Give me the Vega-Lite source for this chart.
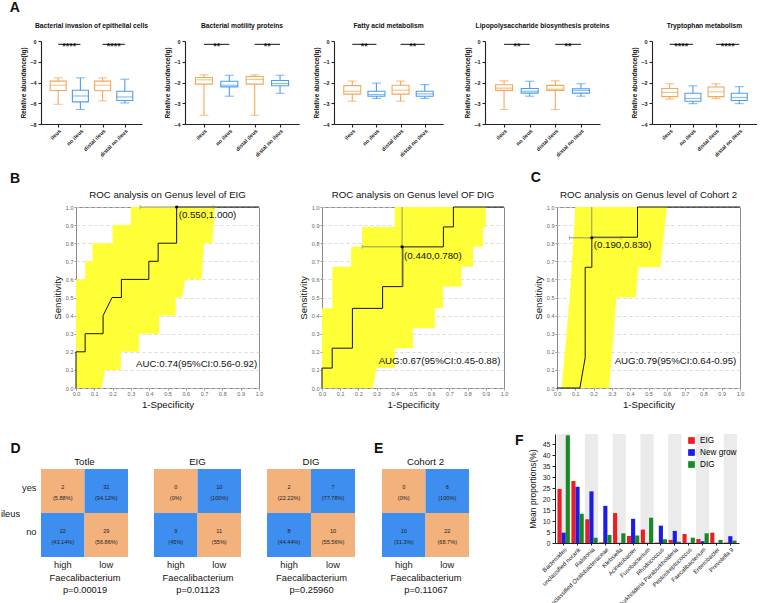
{
"$schema": "https://vega.github.io/schema/vega-lite/v6.json",
"padding": {"left": 0, "top": 1, "right": 0, "bottom": 0},
"background": "white",
"config": {"font": "Liberation Sans", "view": {"stroke": null}, "title": {"color": "#111"}, "axis": {"labelColor": "#222", "titleColor": "#111", "labelOverlap": false}},
"resolve": {"scale": {"color": "independent", "stroke": "independent"}, "legend": {"color": "independent"}},
"datasets": {
"box": [
{"p":1,"g":1,"c":"ileus","lo":-6.1,"q1":-4.77,"med":-4.26,"q3":-3.87,"hi":-3.55},
{"p":1,"g":2,"c":"no ileus","lo":-6.6,"q1":-5.87,"med":-5.3,"q3":-4.74,"hi":-3.55},
{"p":1,"g":3,"c":"ileus","lo":-5.77,"q1":-4.8,"med":-4.26,"q3":-3.87,"hi":-3.55},
{"p":1,"g":4,"c":"no ileus","lo":-5.97,"q1":-5.74,"med":-5.39,"q3":-4.84,"hi":-3.68},
{"p":2,"g":1,"c":"ileus","lo":-3.58,"q1":-2.08,"med":-1.87,"q3":-1.76,"hi":-1.63},
{"p":2,"g":2,"c":"no ileus","lo":-2.66,"q1":-2.21,"med":-2.13,"q3":-1.94,"hi":-1.65},
{"p":2,"g":3,"c":"ileus","lo":-3.58,"q1":-2.08,"med":-1.85,"q3":-1.71,"hi":-1.63},
{"p":2,"g":4,"c":"no ileus","lo":-2.52,"q1":-2.16,"med":-2.05,"q3":-1.9,"hi":-1.65},
{"p":3,"g":1,"c":"ileus","lo":-2.9,"q1":-2.56,"med":-2.42,"q3":-2.15,"hi":-1.93},
{"p":3,"g":2,"c":"no ileus","lo":-2.77,"q1":-2.66,"med":-2.58,"q3":-2.42,"hi":-2.03},
{"p":3,"g":3,"c":"ileus","lo":-2.9,"q1":-2.56,"med":-2.37,"q3":-2.13,"hi":-1.93},
{"p":3,"g":4,"c":"no ileus","lo":-2.77,"q1":-2.66,"med":-2.55,"q3":-2.42,"hi":-2.1},
{"p":4,"g":1,"c":"ileus","lo":-3.3,"q1":-2.38,"med":-2.27,"q3":-2.11,"hi":-1.92},
{"p":4,"g":2,"c":"no ileus","lo":-2.66,"q1":-2.51,"med":-2.42,"q3":-2.29,"hi":-1.94},
{"p":4,"g":3,"c":"ileus","lo":-3.3,"q1":-2.38,"med":-2.32,"q3":-2.14,"hi":-1.92},
{"p":4,"g":4,"c":"no ileus","lo":-2.66,"q1":-2.51,"med":-2.38,"q3":-2.3,"hi":-2.06},
{"p":5,"g":1,"c":"ileus","lo":-2.8,"q1":-2.68,"med":-2.48,"q3":-2.29,"hi":-2.06},
{"p":5,"g":2,"c":"no ileus","lo":-3.02,"q1":-2.9,"med":-2.77,"q3":-2.52,"hi":-2.16},
{"p":5,"g":3,"c":"ileus","lo":-2.77,"q1":-2.68,"med":-2.45,"q3":-2.22,"hi":-2.06},
{"p":5,"g":4,"c":"no ileus","lo":-3.02,"q1":-2.87,"med":-2.72,"q3":-2.52,"hi":-2.2}
],
"sig": [
{"p":1,"a":1,"b":2,"m":1.5,"y":-0.32,"s":"****"},{"p":1,"a":3,"b":4,"m":3.5,"y":-0.32,"s":"****"},
{"p":2,"a":1,"b":2,"m":1.5,"y":-0.16,"s":"**"},{"p":2,"a":3,"b":4,"m":3.5,"y":-0.16,"s":"**"},
{"p":3,"a":1,"b":2,"m":1.5,"y":-0.16,"s":"**"},{"p":3,"a":3,"b":4,"m":3.5,"y":-0.16,"s":"**"},
{"p":4,"a":1,"b":2,"m":1.5,"y":-0.16,"s":"**"},{"p":4,"a":3,"b":4,"m":3.5,"y":-0.16,"s":"**"},
{"p":5,"a":1,"b":2,"m":1.5,"y":-0.16,"s":"****"},{"p":5,"a":3,"b":4,"m":3.5,"y":-0.16,"s":"****"}
],
"line": [
{"r":"EIG","i":0,"x":0,"y":0},{"r":"EIG","i":1,"x":0,"y":0.2},{"r":"EIG","i":2,"x":0.05,"y":0.2},{"r":"EIG","i":3,"x":0.05,"y":0.3},{"r":"EIG","i":4,"x":0.148,"y":0.3},{"r":"EIG","i":5,"x":0.148,"y":0.4},{"r":"EIG","i":6,"x":0.197,"y":0.5},{"r":"EIG","i":7,"x":0.248,"y":0.5},{"r":"EIG","i":8,"x":0.248,"y":0.6},{"r":"EIG","i":9,"x":0.398,"y":0.6},{"r":"EIG","i":10,"x":0.398,"y":0.7},{"r":"EIG","i":11,"x":0.449,"y":0.7},{"r":"EIG","i":12,"x":0.449,"y":0.8},{"r":"EIG","i":13,"x":0.55,"y":0.8},{"r":"EIG","i":14,"x":0.55,"y":1},{"r":"EIG","i":15,"x":1,"y":1},
{"r":"DIG","i":0,"x":0,"y":0},{"r":"DIG","i":1,"x":0,"y":0.11},{"r":"DIG","i":2,"x":0.056,"y":0.11},{"r":"DIG","i":3,"x":0.056,"y":0.22},{"r":"DIG","i":4,"x":0.167,"y":0.22},{"r":"DIG","i":5,"x":0.167,"y":0.44},{"r":"DIG","i":6,"x":0.333,"y":0.44},{"r":"DIG","i":7,"x":0.333,"y":0.56},{"r":"DIG","i":8,"x":0.444,"y":0.56},{"r":"DIG","i":9,"x":0.444,"y":0.78},{"r":"DIG","i":10,"x":0.667,"y":0.78},{"r":"DIG","i":11,"x":0.667,"y":0.89},{"r":"DIG","i":12,"x":0.722,"y":0.89},{"r":"DIG","i":13,"x":0.722,"y":1},{"r":"DIG","i":14,"x":1,"y":1},
{"r":"C2","i":0,"x":0,"y":0},{"r":"C2","i":1,"x":0.125,"y":0},{"r":"C2","i":2,"x":0.154,"y":0.167},{"r":"C2","i":3,"x":0.154,"y":0.667},{"r":"C2","i":4,"x":0.19,"y":0.667},{"r":"C2","i":5,"x":0.19,"y":0.833},{"r":"C2","i":6,"x":0.44,"y":0.833},{"r":"C2","i":7,"x":0.44,"y":1},{"r":"C2","i":8,"x":1,"y":1}
],
"band": [
{"r":"EIG","y":0,"l":0,"h":0.14},{"r":"EIG","y":0.1,"l":0,"h":0.16},{"r":"EIG","y":0.1001,"l":0,"h":0.245},{"r":"EIG","y":0.2,"l":0,"h":0.245},{"r":"EIG","y":0.2001,"l":0,"h":0.345},{"r":"EIG","y":0.3,"l":0,"h":0.345},{"r":"EIG","y":0.3001,"l":0,"h":0.455},{"r":"EIG","y":0.4,"l":0,"h":0.455},{"r":"EIG","y":0.4001,"l":0,"h":0.545},{"r":"EIG","y":0.5,"l":0,"h":0.545},{"r":"EIG","y":0.5001,"l":0,"h":0.58},{"r":"EIG","y":0.6,"l":0,"h":0.597},{"r":"EIG","y":0.6001,"l":0.05,"h":0.687},{"r":"EIG","y":0.7,"l":0.05,"h":0.693},{"r":"EIG","y":0.7001,"l":0.09,"h":0.693},{"r":"EIG","y":0.8,"l":0.09,"h":0.7},{"r":"EIG","y":0.8001,"l":0.2,"h":0.745},{"r":"EIG","y":0.9,"l":0.2,"h":0.752},{"r":"EIG","y":0.9001,"l":0.3,"h":0.752},{"r":"EIG","y":1,"l":0.3,"h":0.76},
{"r":"DIG","y":0,"l":0,"h":0.28},{"r":"DIG","y":0.11,"l":0,"h":0.3},{"r":"DIG","y":0.1101,"l":0,"h":0.4},{"r":"DIG","y":0.22,"l":0,"h":0.4},{"r":"DIG","y":0.2201,"l":0,"h":0.5},{"r":"DIG","y":0.33,"l":0,"h":0.5},{"r":"DIG","y":0.3301,"l":0,"h":0.62},{"r":"DIG","y":0.44,"l":0,"h":0.62},{"r":"DIG","y":0.4401,"l":0.057,"h":0.665},{"r":"DIG","y":0.56,"l":0.057,"h":0.665},{"r":"DIG","y":0.5601,"l":0.057,"h":0.766},{"r":"DIG","y":0.67,"l":0.057,"h":0.766},{"r":"DIG","y":0.6701,"l":0.16,"h":0.83},{"r":"DIG","y":0.78,"l":0.16,"h":0.83},{"r":"DIG","y":0.7801,"l":0.22,"h":0.885},{"r":"DIG","y":0.89,"l":0.22,"h":0.885},{"r":"DIG","y":0.8901,"l":0.4,"h":0.9},{"r":"DIG","y":1,"l":0.4,"h":0.9},
{"r":"C2","y":0,"l":0.025,"h":0.285},{"r":"C2","y":0.5,"l":0.07,"h":0.325},{"r":"C2","y":0.5001,"l":0.07,"h":0.43},{"r":"C2","y":0.667,"l":0.08,"h":0.445},{"r":"C2","y":0.6671,"l":0.08,"h":0.565},{"r":"C2","y":1,"l":0.1,"h":0.6}
],
"pt": [
{"r":"EIG","px":0.55,"py":1.0,"xl":0.35,"xh":0.75,"yl":1.0,"yh":1.0,"lab":"(0.550,1.000)","auc":"AUC:0.74(95%CI:0.56-0.92)"},
{"r":"DIG","px":0.44,"py":0.78,"xl":0.22,"xh":0.667,"yl":0.56,"yh":1.0,"lab":"(0.440,0.780)","auc":"AUG:0.67(95%CI:0.45-0.88)"},
{"r":"C2","px":0.19,"py":0.83,"xl":0.068,"xh":0.35,"yl":0.667,"yh":1.0,"lab":"(0.190,0.830)","auc":"AUG:0.79(95%CI:0.64-0.95)"}
],
"heat": [
{"h":"Totle","i":"yes","f":"high","n":"2","pct":"(5.88%)"},{"h":"Totle","i":"yes","f":"low","n":"32","pct":"(94.12%)"},{"h":"Totle","i":"no","f":"high","n":"22","pct":"(43.14%)"},{"h":"Totle","i":"no","f":"low","n":"29","pct":"(56.86%)"},
{"h":"EIG","i":"yes","f":"high","n":"0","pct":"(0%)"},{"h":"EIG","i":"yes","f":"low","n":"10","pct":"(100%)"},{"h":"EIG","i":"no","f":"high","n":"9","pct":"(45%)"},{"h":"EIG","i":"no","f":"low","n":"11","pct":"(55%)"},
{"h":"DIG","i":"yes","f":"high","n":"2","pct":"(22.22%)"},{"h":"DIG","i":"yes","f":"low","n":"7","pct":"(77.78%)"},{"h":"DIG","i":"no","f":"high","n":"8","pct":"(44.44%)"},{"h":"DIG","i":"no","f":"low","n":"10","pct":"(55.56%)"},
{"h":"C2","i":"yes","f":"high","n":"0","pct":"(0%)"},{"h":"C2","i":"yes","f":"low","n":"6","pct":"(100%)"},{"h":"C2","i":"no","f":"high","n":"10","pct":"(31.3%)"},{"h":"C2","i":"no","f":"low","n":"22","pct":"(68.7%)"}
],
"bars": [
{"genus":"Bacteroides","grp":"EIG","v":24.6},{"genus":"Bacteroides","grp":"New grow","v":4.7},{"genus":"Bacteroides","grp":"DIG","v":49.0},
{"genus":"unclassified norank","grp":"EIG","v":28.2},{"genus":"unclassified norank","grp":"New grow","v":25.6},{"genus":"unclassified norank","grp":"DIG","v":13.3},
{"genus":"Ralstonia","grp":"EIG","v":10.8},{"genus":"Ralstonia","grp":"New grow","v":23.5},{"genus":"Ralstonia","grp":"DIG","v":2.4},
{"genus":"unclassified Oxalobacteraceae","grp":"EIG","v":0.3},{"genus":"unclassified Oxalobacteraceae","grp":"New grow","v":16.9},{"genus":"unclassified Oxalobacteraceae","grp":"DIG","v":3.7},
{"genus":"Klebsiella","grp":"EIG","v":13.6},{"genus":"Klebsiella","grp":"New grow","v":0.1},{"genus":"Klebsiella","grp":"DIG","v":4.4},
{"genus":"Acinetobacter","grp":"EIG","v":3.2},{"genus":"Acinetobacter","grp":"New grow","v":11.0},{"genus":"Acinetobacter","grp":"DIG","v":3.4},
{"genus":"Fusobacterium","grp":"EIG","v":6.1},{"genus":"Fusobacterium","grp":"New grow","v":0.1},{"genus":"Fusobacterium","grp":"DIG","v":11.5},
{"genus":"Rhodococcus","grp":"EIG","v":0.2},{"genus":"Rhodococcus","grp":"New grow","v":7.9},{"genus":"Rhodococcus","grp":"DIG","v":1.7},
{"genus":"Burkholderia Paraburkholderia","grp":"EIG","v":1.4},{"genus":"Burkholderia Paraburkholderia","grp":"New grow","v":5.5},{"genus":"Burkholderia Paraburkholderia","grp":"DIG","v":0.6},
{"genus":"Peptostreptococcus","grp":"EIG","v":4.1},{"genus":"Peptostreptococcus","grp":"New grow","v":0.1},{"genus":"Peptostreptococcus","grp":"DIG","v":2.4},
{"genus":"Faecalibacterium","grp":"EIG","v":1.8},{"genus":"Faecalibacterium","grp":"New grow","v":0.8},{"genus":"Faecalibacterium","grp":"DIG","v":4.4},
{"genus":"Enterobacter","grp":"EIG","v":4.7},{"genus":"Enterobacter","grp":"New grow","v":0.1},{"genus":"Enterobacter","grp":"DIG","v":1.4},
{"genus":"Prevotella 9","grp":"EIG","v":0.2},{"genus":"Prevotella 9","grp":"New grow","v":3.1},{"genus":"Prevotella 9","grp":"DIG","v":1.1}
]
},
"spacing": 24,
"vconcat": [
{"spacing": 12, "vconcat": [
{"title": {"text": "A", "anchor": "start", "fontSize": 14, "fontWeight": "bold", "dx": -11, "offset": 8},
 "spacing": 14,
 "hconcat": [
 {"spacing": 16, "hconcat": [
  {"width": 101, "height": 83,
   "title": {"text": "Bacterial invasion of epithelial cells", "fontSize": 6.7, "fontWeight": "bold", "offset": 9},
   "data": {"name": "box"}, "transform": [{"filter": "datum.p == 1"}],
   "encoding": {"x": {"field": "g", "type": "quantitative", "scale": {"domain": [0.45, 4.55], "nice": false, "zero": false}, "axis": {"values": [1,2,3,4], "tickCount": 6, "labelExpr": "['','ileus','no ileus','distal ileus','distal no ileus'][datum.value]", "labelAngle": -45, "labelAlign": "right", "labelBaseline": "top", "labelFontSize": 5.5, "labelFontWeight": "bold", "labelPadding": 1, "labelFlush": false, "labelOverlap": false, "title": null, "grid": false, "tickSize": 3, "tickColor": "#222", "tickWidth": 1.1, "domainColor": "#222", "domainWidth": 1.1}}},
   "layer": [
    {"mark": {"type": "rule", "strokeWidth": 1.1}, "encoding": {"y": {"field": "lo", "type": "quantitative", "scale": {"domain": [-8, 0], "nice": false}, "axis": {"values": [0,-2,-4,-6,-8], "tickCount": 6, "format": "d", "title": "Relative abundance(lg)", "titleFontSize": 6.5, "titleFontWeight": "bold", "titlePadding": 3, "labelFontSize": 5.5, "labelFontWeight": "bold", "labelPadding": 2, "labelOverlap": false, "tickSize": 3, "tickColor": "#222", "tickWidth": 1.1, "domainColor": "#222", "domainWidth": 1.1, "grid": false}}, "y2": {"field": "hi"}, "color": {"field": "c", "type": "nominal", "scale": {"domain": ["ileus","no ileus"], "range": ["#F5A857","#4C9DF3"]}, "legend": null}}},
    {"mark": {"type": "bar", "size": 16, "fill": "white", "strokeWidth": 1.1}, "encoding": {"y": {"field": "q1", "type": "quantitative"}, "y2": {"field": "q3"}, "stroke": {"field": "c", "type": "nominal", "scale": {"domain": ["ileus","no ileus"], "range": ["#F5A857","#4C9DF3"]}, "legend": null}}},
    {"mark": {"type": "tick", "orient": "horizontal", "size": 16, "thickness": 1.1}, "encoding": {"y": {"field": "med", "type": "quantitative"}, "color": {"field": "c", "type": "nominal", "legend": null}}},
    {"mark": {"type": "tick", "orient": "horizontal", "size": 9, "thickness": 1.1}, "encoding": {"y": {"field": "lo", "type": "quantitative"}, "color": {"field": "c", "type": "nominal", "legend": null}}},
    {"mark": {"type": "tick", "orient": "horizontal", "size": 9, "thickness": 1.1}, "encoding": {"y": {"field": "hi", "type": "quantitative"}, "color": {"field": "c", "type": "nominal", "legend": null}}},
    {"data": {"name": "sig"}, "transform": [{"filter": "datum.p == 1"}], "mark": {"type": "rule", "color": "#111", "strokeWidth": 1}, "encoding": {"x": {"field": "a", "type": "quantitative"}, "x2": {"field": "b"}, "y": {"field": "y", "type": "quantitative"}}},
    {"data": {"name": "sig"}, "transform": [{"filter": "datum.p == 1"}], "mark": {"type": "text", "fontWeight": "bold", "fontSize": 9, "baseline": "alphabetic", "dy": 4.5, "color": "#111"}, "encoding": {"x": {"field": "m", "type": "quantitative"}, "y": {"field": "y", "type": "quantitative"}, "text": {"field": "s"}}}
   ]},
  {"width": 114, "height": 83,
   "title": {"text": "Bacterial motility proteins", "fontSize": 6.7, "fontWeight": "bold", "offset": 9},
   "data": {"name": "box"}, "transform": [{"filter": "datum.p == 2"}],
   "encoding": {"x": {"field": "g", "type": "quantitative", "scale": {"domain": [0.45, 4.55], "nice": false, "zero": false}, "axis": {"values": [1,2,3,4], "tickCount": 6, "labelExpr": "['','ileus','no ileus','distal ileus','distal no ileus'][datum.value]", "labelAngle": -45, "labelAlign": "right", "labelBaseline": "top", "labelFontSize": 5.5, "labelFontWeight": "bold", "labelPadding": 1, "labelFlush": false, "labelOverlap": false, "title": null, "grid": false, "tickSize": 3, "tickColor": "#222", "tickWidth": 1.1, "domainColor": "#222", "domainWidth": 1.1}}},
   "layer": [
    {"mark": {"type": "rule", "strokeWidth": 1.1}, "encoding": {"y": {"field": "lo", "type": "quantitative", "scale": {"domain": [-4, 0], "nice": false}, "axis": {"values": [0,-1,-2,-3,-4], "tickCount": 6, "format": "d", "title": "Relative abundance(lg)", "titleFontSize": 6.5, "titleFontWeight": "bold", "titlePadding": 3, "labelFontSize": 5.5, "labelFontWeight": "bold", "labelPadding": 2, "labelOverlap": false, "tickSize": 3, "tickColor": "#222", "tickWidth": 1.1, "domainColor": "#222", "domainWidth": 1.1, "grid": false}}, "y2": {"field": "hi"}, "color": {"field": "c", "type": "nominal", "scale": {"domain": ["ileus","no ileus"], "range": ["#F5A857","#4C9DF3"]}, "legend": null}}},
    {"mark": {"type": "bar", "size": 17, "fill": "white", "strokeWidth": 1.1}, "encoding": {"y": {"field": "q1", "type": "quantitative"}, "y2": {"field": "q3"}, "stroke": {"field": "c", "type": "nominal", "scale": {"domain": ["ileus","no ileus"], "range": ["#F5A857","#4C9DF3"]}, "legend": null}}},
    {"mark": {"type": "tick", "orient": "horizontal", "size": 17, "thickness": 1.1}, "encoding": {"y": {"field": "med", "type": "quantitative"}, "color": {"field": "c", "type": "nominal", "legend": null}}},
    {"mark": {"type": "tick", "orient": "horizontal", "size": 9, "thickness": 1.1}, "encoding": {"y": {"field": "lo", "type": "quantitative"}, "color": {"field": "c", "type": "nominal", "legend": null}}},
    {"mark": {"type": "tick", "orient": "horizontal", "size": 9, "thickness": 1.1}, "encoding": {"y": {"field": "hi", "type": "quantitative"}, "color": {"field": "c", "type": "nominal", "legend": null}}},
    {"data": {"name": "sig"}, "transform": [{"filter": "datum.p == 2"}], "mark": {"type": "rule", "color": "#111", "strokeWidth": 1}, "encoding": {"x": {"field": "a", "type": "quantitative"}, "x2": {"field": "b"}, "y": {"field": "y", "type": "quantitative"}}},
    {"data": {"name": "sig"}, "transform": [{"filter": "datum.p == 2"}], "mark": {"type": "text", "fontWeight": "bold", "fontSize": 9, "baseline": "alphabetic", "dy": 4.5, "color": "#111"}, "encoding": {"x": {"field": "m", "type": "quantitative"}, "y": {"field": "y", "type": "quantitative"}, "text": {"field": "s"}}}
   ]}
 ]},
 {"spacing": 21, "hconcat": [
  {"width": 109, "height": 83,
   "title": {"text": "Fatty acid metabolism", "fontSize": 6.7, "fontWeight": "bold", "offset": 9},
   "data": {"name": "box"}, "transform": [{"filter": "datum.p == 3"}],
   "encoding": {"x": {"field": "g", "type": "quantitative", "scale": {"domain": [0.45, 4.55], "nice": false, "zero": false}, "axis": {"values": [1,2,3,4], "tickCount": 6, "labelExpr": "['','ileus','no ileus','distal ileus','distal no ileus'][datum.value]", "labelAngle": -45, "labelAlign": "right", "labelBaseline": "top", "labelFontSize": 5.5, "labelFontWeight": "bold", "labelPadding": 1, "labelFlush": false, "labelOverlap": false, "title": null, "grid": false, "tickSize": 3, "tickColor": "#222", "tickWidth": 1.1, "domainColor": "#222", "domainWidth": 1.1}}},
   "layer": [
    {"mark": {"type": "rule", "strokeWidth": 1.1}, "encoding": {"y": {"field": "lo", "type": "quantitative", "scale": {"domain": [-4, 0], "nice": false}, "axis": {"values": [0,-1,-2,-3,-4], "tickCount": 6, "format": "d", "title": "Relative abundance(lg)", "titleFontSize": 6.5, "titleFontWeight": "bold", "titlePadding": 3, "labelFontSize": 5.5, "labelFontWeight": "bold", "labelPadding": 2, "labelOverlap": false, "tickSize": 3, "tickColor": "#222", "tickWidth": 1.1, "domainColor": "#222", "domainWidth": 1.1, "grid": false}}, "y2": {"field": "hi"}, "color": {"field": "c", "type": "nominal", "scale": {"domain": ["ileus","no ileus"], "range": ["#F5A857","#4C9DF3"]}, "legend": null}}},
    {"mark": {"type": "bar", "size": 17, "fill": "white", "strokeWidth": 1.1}, "encoding": {"y": {"field": "q1", "type": "quantitative"}, "y2": {"field": "q3"}, "stroke": {"field": "c", "type": "nominal", "scale": {"domain": ["ileus","no ileus"], "range": ["#F5A857","#4C9DF3"]}, "legend": null}}},
    {"mark": {"type": "tick", "orient": "horizontal", "size": 17, "thickness": 1.1}, "encoding": {"y": {"field": "med", "type": "quantitative"}, "color": {"field": "c", "type": "nominal", "legend": null}}},
    {"mark": {"type": "tick", "orient": "horizontal", "size": 9, "thickness": 1.1}, "encoding": {"y": {"field": "lo", "type": "quantitative"}, "color": {"field": "c", "type": "nominal", "legend": null}}},
    {"mark": {"type": "tick", "orient": "horizontal", "size": 9, "thickness": 1.1}, "encoding": {"y": {"field": "hi", "type": "quantitative"}, "color": {"field": "c", "type": "nominal", "legend": null}}},
    {"data": {"name": "sig"}, "transform": [{"filter": "datum.p == 3"}], "mark": {"type": "rule", "color": "#111", "strokeWidth": 1}, "encoding": {"x": {"field": "a", "type": "quantitative"}, "x2": {"field": "b"}, "y": {"field": "y", "type": "quantitative"}}},
    {"data": {"name": "sig"}, "transform": [{"filter": "datum.p == 3"}], "mark": {"type": "text", "fontWeight": "bold", "fontSize": 9, "baseline": "alphabetic", "dy": 4.5, "color": "#111"}, "encoding": {"x": {"field": "m", "type": "quantitative"}, "y": {"field": "y", "type": "quantitative"}, "text": {"field": "s"}}}
   ]},
  {"width": 115, "height": 83,
   "title": {"text": "Lipopolysaccharide biosynthesis proteins", "fontSize": 6.7, "fontWeight": "bold", "offset": 9},
   "data": {"name": "box"}, "transform": [{"filter": "datum.p == 4"}],
   "encoding": {"x": {"field": "g", "type": "quantitative", "scale": {"domain": [0.45, 4.55], "nice": false, "zero": false}, "axis": {"values": [1,2,3,4], "tickCount": 6, "labelExpr": "['','ileus','no ileus','distal ileus','distal no ileus'][datum.value]", "labelAngle": -45, "labelAlign": "right", "labelBaseline": "top", "labelFontSize": 5.5, "labelFontWeight": "bold", "labelPadding": 1, "labelFlush": false, "labelOverlap": false, "title": null, "grid": false, "tickSize": 3, "tickColor": "#222", "tickWidth": 1.1, "domainColor": "#222", "domainWidth": 1.1}}},
   "layer": [
    {"mark": {"type": "rule", "strokeWidth": 1.1}, "encoding": {"y": {"field": "lo", "type": "quantitative", "scale": {"domain": [-4, 0], "nice": false}, "axis": {"values": [0,-1,-2,-3,-4], "tickCount": 6, "format": "d", "title": "Relative abundance(lg)", "titleFontSize": 6.5, "titleFontWeight": "bold", "titlePadding": 3, "labelFontSize": 5.5, "labelFontWeight": "bold", "labelPadding": 2, "labelOverlap": false, "tickSize": 3, "tickColor": "#222", "tickWidth": 1.1, "domainColor": "#222", "domainWidth": 1.1, "grid": false}}, "y2": {"field": "hi"}, "color": {"field": "c", "type": "nominal", "scale": {"domain": ["ileus","no ileus"], "range": ["#F5A857","#4C9DF3"]}, "legend": null}}},
    {"mark": {"type": "bar", "size": 17, "fill": "white", "strokeWidth": 1.1}, "encoding": {"y": {"field": "q1", "type": "quantitative"}, "y2": {"field": "q3"}, "stroke": {"field": "c", "type": "nominal", "scale": {"domain": ["ileus","no ileus"], "range": ["#F5A857","#4C9DF3"]}, "legend": null}}},
    {"mark": {"type": "tick", "orient": "horizontal", "size": 17, "thickness": 1.1}, "encoding": {"y": {"field": "med", "type": "quantitative"}, "color": {"field": "c", "type": "nominal", "legend": null}}},
    {"mark": {"type": "tick", "orient": "horizontal", "size": 9, "thickness": 1.1}, "encoding": {"y": {"field": "lo", "type": "quantitative"}, "color": {"field": "c", "type": "nominal", "legend": null}}},
    {"mark": {"type": "tick", "orient": "horizontal", "size": 9, "thickness": 1.1}, "encoding": {"y": {"field": "hi", "type": "quantitative"}, "color": {"field": "c", "type": "nominal", "legend": null}}},
    {"data": {"name": "sig"}, "transform": [{"filter": "datum.p == 4"}], "mark": {"type": "rule", "color": "#111", "strokeWidth": 1}, "encoding": {"x": {"field": "a", "type": "quantitative"}, "x2": {"field": "b"}, "y": {"field": "y", "type": "quantitative"}}},
    {"data": {"name": "sig"}, "transform": [{"filter": "datum.p == 4"}], "mark": {"type": "text", "fontWeight": "bold", "fontSize": 9, "baseline": "alphabetic", "dy": 4.5, "color": "#111"}, "encoding": {"x": {"field": "m", "type": "quantitative"}, "y": {"field": "y", "type": "quantitative"}, "text": {"field": "s"}}}
   ]},
  {"width": 105, "height": 83,
   "title": {"text": "Tryptophan metabolism", "fontSize": 6.7, "fontWeight": "bold", "offset": 9},
   "data": {"name": "box"}, "transform": [{"filter": "datum.p == 5"}],
   "encoding": {"x": {"field": "g", "type": "quantitative", "scale": {"domain": [0.45, 4.55], "nice": false, "zero": false}, "axis": {"values": [1,2,3,4], "tickCount": 6, "labelExpr": "['','ileus','no ileus','distal ileus','distal no ileus'][datum.value]", "labelAngle": -45, "labelAlign": "right", "labelBaseline": "top", "labelFontSize": 5.5, "labelFontWeight": "bold", "labelPadding": 1, "labelFlush": false, "labelOverlap": false, "title": null, "grid": false, "tickSize": 3, "tickColor": "#222", "tickWidth": 1.1, "domainColor": "#222", "domainWidth": 1.1}}},
   "layer": [
    {"mark": {"type": "rule", "strokeWidth": 1.1}, "encoding": {"y": {"field": "lo", "type": "quantitative", "scale": {"domain": [-4, 0], "nice": false}, "axis": {"values": [0,-1,-2,-3,-4], "tickCount": 6, "format": "d", "title": "Relative abundance(lg)", "titleFontSize": 6.5, "titleFontWeight": "bold", "titlePadding": 3, "labelFontSize": 5.5, "labelFontWeight": "bold", "labelPadding": 2, "labelOverlap": false, "tickSize": 3, "tickColor": "#222", "tickWidth": 1.1, "domainColor": "#222", "domainWidth": 1.1, "grid": false}}, "y2": {"field": "hi"}, "color": {"field": "c", "type": "nominal", "scale": {"domain": ["ileus","no ileus"], "range": ["#F5A857","#4C9DF3"]}, "legend": null}}},
    {"mark": {"type": "bar", "size": 16, "fill": "white", "strokeWidth": 1.1}, "encoding": {"y": {"field": "q1", "type": "quantitative"}, "y2": {"field": "q3"}, "stroke": {"field": "c", "type": "nominal", "scale": {"domain": ["ileus","no ileus"], "range": ["#F5A857","#4C9DF3"]}, "legend": null}}},
    {"mark": {"type": "tick", "orient": "horizontal", "size": 16, "thickness": 1.1}, "encoding": {"y": {"field": "med", "type": "quantitative"}, "color": {"field": "c", "type": "nominal", "legend": null}}},
    {"mark": {"type": "tick", "orient": "horizontal", "size": 9, "thickness": 1.1}, "encoding": {"y": {"field": "lo", "type": "quantitative"}, "color": {"field": "c", "type": "nominal", "legend": null}}},
    {"mark": {"type": "tick", "orient": "horizontal", "size": 9, "thickness": 1.1}, "encoding": {"y": {"field": "hi", "type": "quantitative"}, "color": {"field": "c", "type": "nominal", "legend": null}}},
    {"data": {"name": "sig"}, "transform": [{"filter": "datum.p == 5"}], "mark": {"type": "rule", "color": "#111", "strokeWidth": 1}, "encoding": {"x": {"field": "a", "type": "quantitative"}, "x2": {"field": "b"}, "y": {"field": "y", "type": "quantitative"}}},
    {"data": {"name": "sig"}, "transform": [{"filter": "datum.p == 5"}], "mark": {"type": "text", "fontWeight": "bold", "fontSize": 9, "baseline": "alphabetic", "dy": 4.5, "color": "#111"}, "encoding": {"x": {"field": "m", "type": "quantitative"}, "y": {"field": "y", "type": "quantitative"}, "text": {"field": "s"}}}
   ]}
 ]}
 ]},
{"spacing": 21, "hconcat": [
 {"spacing": 9, "hconcat": [
  {"width": 1, "height": 1, "data": {"values": []}, "mark": "point",
   "title": {"text": "B", "anchor": "start", "fontSize": 14, "fontWeight": "bold", "dx": -31, "offset": 21}},
  {"spacing": 33, "hconcat": [
  {"width": 183, "height": 181, "view": {"stroke": "#8a8a8a"},
   "title": {"text": "ROC analysis on Genus level of EIG", "fontSize": 9.7, "fontWeight": "normal", "offset": 5},
   "layer": [
    {"data": {"name": "band"}, "transform": [{"filter": "datum.r == 'EIG'"}], "mark": {"type": "area", "orient": "horizontal", "color": "#FFFF38", "opacity": 1}, "encoding": {"y": {"field": "y", "type": "quantitative", "scale": {"domain": [0,1], "nice": false}, "axis": {"values": [0,0.1,0.2,0.3,0.4,0.5,0.6,0.7,0.8,0.9,1], "tickCount": 12, "format": ".1f", "title": "Sensitivity", "titleFontSize": 9.7, "titleFontWeight": "normal", "titlePadding": 3, "labelFontSize": 5.5, "labelColor": "#666", "labelPadding": 1, "labelOverlap": false, "labelFlush": false, "tickSize": 2, "tickColor": "#999", "domain": false, "grid": true, "gridDash": [3,3], "gridColor": "#cfcfcf", "gridWidth": 0.8}}, "x": {"field": "l", "type": "quantitative", "scale": {"domain": [0,1], "nice": false}, "axis": {"values": [0,0.1,0.2,0.3,0.4,0.5,0.6,0.7,0.8,0.9,1], "tickCount": 12, "format": ".1f", "title": "1-Specificity", "titleFontSize": 9.7, "titleFontWeight": "normal", "titlePadding": 3, "labelFontSize": 5.5, "labelColor": "#666", "labelPadding": 1, "labelOverlap": false, "labelFlush": false, "tickSize": 2, "tickColor": "#999", "domain": false, "grid": false}}, "x2": {"field": "h"}}},
    {"data": {"name": "line"}, "transform": [{"filter": "datum.r == 'EIG'"}], "mark": {"type": "line", "color": "#111", "strokeWidth": 1}, "encoding": {"x": {"field": "x", "type": "quantitative"}, "y": {"field": "y", "type": "quantitative"}, "order": {"field": "i"}}},
    {"data": {"name": "pt"}, "transform": [{"filter": "datum.r == 'EIG'"}], "mark": {"type": "rule", "color": "#777", "strokeWidth": 0.8}, "encoding": {"x": {"field": "xl", "type": "quantitative"}, "x2": {"field": "xh"}, "y": {"field": "py", "type": "quantitative"}}},
    {"data": {"name": "pt"}, "transform": [{"filter": "datum.r == 'EIG'"}], "mark": {"type": "tick", "orient": "vertical", "size": 4, "thickness": 0.8, "color": "#777"}, "encoding": {"x": {"field": "xl", "type": "quantitative"}, "y": {"field": "py", "type": "quantitative"}}},
    {"data": {"name": "pt"}, "transform": [{"filter": "datum.r == 'EIG'"}], "mark": {"type": "tick", "orient": "vertical", "size": 4, "thickness": 0.8, "color": "#777"}, "encoding": {"x": {"field": "xh", "type": "quantitative"}, "y": {"field": "py", "type": "quantitative"}}},
    {"data": {"name": "pt"}, "transform": [{"filter": "datum.r == 'EIG'"}], "mark": {"type": "point", "filled": true, "color": "#000", "size": 10, "opacity": 1}, "encoding": {"x": {"field": "px", "type": "quantitative"}, "y": {"field": "py", "type": "quantitative"}}},
    {"data": {"name": "pt"}, "transform": [{"filter": "datum.r == 'EIG'"}], "mark": {"type": "text", "fontSize": 9.7, "align": "left", "baseline": "middle", "dx": 2, "dy": 8, "color": "#111"}, "encoding": {"x": {"field": "px", "type": "quantitative"}, "y": {"field": "py", "type": "quantitative"}, "text": {"field": "lab"}}},
    {"data": {"name": "pt"}, "transform": [{"filter": "datum.r == 'EIG'"}], "mark": {"type": "text", "fontSize": 9.7, "align": "right", "baseline": "middle", "color": "#111"}, "encoding": {"x": {"datum": 0.99}, "y": {"datum": 0.135}, "text": {"field": "auc"}}}
   ]},
  {"width": 182, "height": 181, "view": {"stroke": "#8a8a8a"},
   "title": {"text": "ROC analysis on Genus level OF DIG", "fontSize": 9.7, "fontWeight": "normal", "offset": 5},
   "layer": [
    {"data": {"name": "band"}, "transform": [{"filter": "datum.r == 'DIG'"}], "mark": {"type": "area", "orient": "horizontal", "color": "#FFFF38", "opacity": 1}, "encoding": {"y": {"field": "y", "type": "quantitative", "scale": {"domain": [0,1], "nice": false}, "axis": {"values": [0,0.1,0.2,0.3,0.4,0.5,0.6,0.7,0.8,0.9,1], "tickCount": 12, "format": ".1f", "title": "Sensitivity", "titleFontSize": 9.7, "titleFontWeight": "normal", "titlePadding": 3, "labelFontSize": 5.5, "labelColor": "#666", "labelPadding": 1, "labelOverlap": false, "labelFlush": false, "tickSize": 2, "tickColor": "#999", "domain": false, "grid": true, "gridDash": [3,3], "gridColor": "#cfcfcf", "gridWidth": 0.8}}, "x": {"field": "l", "type": "quantitative", "scale": {"domain": [0,1], "nice": false}, "axis": {"values": [0,0.1,0.2,0.3,0.4,0.5,0.6,0.7,0.8,0.9,1], "tickCount": 12, "format": ".1f", "title": "1-Specificity", "titleFontSize": 9.7, "titleFontWeight": "normal", "titlePadding": 3, "labelFontSize": 5.5, "labelColor": "#666", "labelPadding": 1, "labelOverlap": false, "labelFlush": false, "tickSize": 2, "tickColor": "#999", "domain": false, "grid": false}}, "x2": {"field": "h"}}},
    {"data": {"name": "line"}, "transform": [{"filter": "datum.r == 'DIG'"}], "mark": {"type": "line", "color": "#111", "strokeWidth": 1}, "encoding": {"x": {"field": "x", "type": "quantitative"}, "y": {"field": "y", "type": "quantitative"}, "order": {"field": "i"}}},
    {"data": {"name": "pt"}, "transform": [{"filter": "datum.r == 'DIG'"}], "mark": {"type": "rule", "color": "#777", "strokeWidth": 0.8}, "encoding": {"x": {"field": "xl", "type": "quantitative"}, "x2": {"field": "xh"}, "y": {"field": "py", "type": "quantitative"}}},
    {"data": {"name": "pt"}, "transform": [{"filter": "datum.r == 'DIG'"}], "mark": {"type": "rule", "color": "#777", "strokeWidth": 0.8}, "encoding": {"x": {"field": "px", "type": "quantitative"}, "y": {"field": "yl", "type": "quantitative"}, "y2": {"field": "yh"}}},
    {"data": {"name": "pt"}, "transform": [{"filter": "datum.r == 'DIG'"}], "mark": {"type": "tick", "orient": "vertical", "size": 4, "thickness": 0.8, "color": "#777"}, "encoding": {"x": {"field": "xl", "type": "quantitative"}, "y": {"field": "py", "type": "quantitative"}}},
    {"data": {"name": "pt"}, "transform": [{"filter": "datum.r == 'DIG'"}], "mark": {"type": "point", "filled": true, "color": "#000", "size": 10, "opacity": 1}, "encoding": {"x": {"field": "px", "type": "quantitative"}, "y": {"field": "py", "type": "quantitative"}}},
    {"data": {"name": "pt"}, "transform": [{"filter": "datum.r == 'DIG'"}], "mark": {"type": "text", "fontSize": 9.7, "align": "left", "baseline": "middle", "dx": 2, "dy": 9, "color": "#111"}, "encoding": {"x": {"field": "px", "type": "quantitative"}, "y": {"field": "py", "type": "quantitative"}, "text": {"field": "lab"}}},
    {"data": {"name": "pt"}, "transform": [{"filter": "datum.r == 'DIG'"}], "mark": {"type": "text", "fontSize": 9.7, "align": "right", "baseline": "middle", "color": "#111"}, "encoding": {"x": {"datum": 0.98}, "y": {"datum": 0.147}, "text": {"field": "auc"}}}
   ]}
  ]}
 ]},
 {"title": {"text": "C", "anchor": "start", "fontSize": 14, "fontWeight": "bold", "dx": -2, "offset": 5},
  "hconcat": [
  {"width": 183, "height": 181, "view": {"stroke": "#8a8a8a"},
   "title": {"text": "ROC analysis on Genus level of Cohort 2", "fontSize": 9.7, "fontWeight": "normal", "offset": 5},
   "layer": [
    {"data": {"name": "band"}, "transform": [{"filter": "datum.r == 'C2'"}], "mark": {"type": "area", "orient": "horizontal", "color": "#FFFF38", "opacity": 1}, "encoding": {"y": {"field": "y", "type": "quantitative", "scale": {"domain": [0,1], "nice": false}, "axis": {"values": [0,0.1,0.2,0.3,0.4,0.5,0.6,0.7,0.8,0.9,1], "tickCount": 12, "format": ".1f", "title": "Sensitivity", "titleFontSize": 9.7, "titleFontWeight": "normal", "titlePadding": 3, "labelFontSize": 5.5, "labelColor": "#666", "labelPadding": 1, "labelOverlap": false, "labelFlush": false, "tickSize": 2, "tickColor": "#999", "domain": false, "grid": true, "gridDash": [3,3], "gridColor": "#cfcfcf", "gridWidth": 0.8}}, "x": {"field": "l", "type": "quantitative", "scale": {"domain": [0,1], "nice": false}, "axis": {"values": [0,0.1,0.2,0.3,0.4,0.5,0.6,0.7,0.8,0.9,1], "tickCount": 12, "format": ".1f", "title": "1-Specificity", "titleFontSize": 9.7, "titleFontWeight": "normal", "titlePadding": 3, "labelFontSize": 5.5, "labelColor": "#666", "labelPadding": 1, "labelOverlap": false, "labelFlush": false, "tickSize": 2, "tickColor": "#999", "domain": false, "grid": false}}, "x2": {"field": "h"}}},
    {"data": {"name": "line"}, "transform": [{"filter": "datum.r == 'C2'"}], "mark": {"type": "line", "color": "#111", "strokeWidth": 1}, "encoding": {"x": {"field": "x", "type": "quantitative"}, "y": {"field": "y", "type": "quantitative"}, "order": {"field": "i"}}},
    {"data": {"name": "pt"}, "transform": [{"filter": "datum.r == 'C2'"}], "mark": {"type": "rule", "color": "#777", "strokeWidth": 0.8}, "encoding": {"x": {"field": "xl", "type": "quantitative"}, "x2": {"field": "xh"}, "y": {"field": "py", "type": "quantitative"}}},
    {"data": {"name": "pt"}, "transform": [{"filter": "datum.r == 'C2'"}], "mark": {"type": "rule", "color": "#777", "strokeWidth": 0.8}, "encoding": {"x": {"field": "px", "type": "quantitative"}, "y": {"field": "yl", "type": "quantitative"}, "y2": {"field": "yh"}}},
    {"data": {"name": "pt"}, "transform": [{"filter": "datum.r == 'C2'"}], "mark": {"type": "tick", "orient": "vertical", "size": 4, "thickness": 0.8, "color": "#777"}, "encoding": {"x": {"field": "xl", "type": "quantitative"}, "y": {"field": "py", "type": "quantitative"}}},
    {"data": {"name": "pt"}, "transform": [{"filter": "datum.r == 'C2'"}], "mark": {"type": "tick", "orient": "vertical", "size": 4, "thickness": 0.8, "color": "#777"}, "encoding": {"x": {"field": "xh", "type": "quantitative"}, "y": {"field": "py", "type": "quantitative"}}},
    {"data": {"name": "pt"}, "transform": [{"filter": "datum.r == 'C2'"}], "mark": {"type": "point", "filled": true, "color": "#000", "size": 10, "opacity": 1}, "encoding": {"x": {"field": "px", "type": "quantitative"}, "y": {"field": "py", "type": "quantitative"}}},
    {"data": {"name": "pt"}, "transform": [{"filter": "datum.r == 'C2'"}], "mark": {"type": "text", "fontSize": 9.7, "align": "left", "baseline": "middle", "dx": 2, "dy": 7, "color": "#111"}, "encoding": {"x": {"field": "px", "type": "quantitative"}, "y": {"field": "py", "type": "quantitative"}, "text": {"field": "lab"}}},
    {"data": {"name": "pt"}, "transform": [{"filter": "datum.r == 'C2'"}], "mark": {"type": "text", "fontSize": 9.7, "align": "right", "baseline": "middle", "color": "#111"}, "encoding": {"x": {"datum": 0.98}, "y": {"datum": 0.147}, "text": {"field": "auc"}}}
   ]}
 ]}
]}
]},
{"spacing": 46,
 "resolve": {"scale": {"color": "independent"}, "legend": {"color": "independent"}},
 "hconcat": [
 {"spacing": 7, "vconcat": [
  {"width": 1, "height": 1, "data": {"values": []}, "mark": "point"},
  {"spacing": 19, "hconcat": [
   {"title": {"text": "D", "anchor": "start", "fontSize": 14, "fontWeight": "bold", "dx": 10, "offset": 1},
    "spacing": 26,
    "hconcat": [
    {"width": 87, "height": 88,
     "title": {"text": "Totle", "fontSize": 9.7, "fontWeight": "normal", "offset": 2},
     "data": {"name": "heat"}, "transform": [{"filter": "datum.h == 'Totle'"}],
     "encoding": {
      "x": {"field": "f", "type": "nominal", "sort": ["high","low"], "scale": {"paddingInner": 0, "paddingOuter": 0}, "axis": {"title": ["Faecalibacterium", "p=0.00019"], "titleFontSize": 9.3, "titleFontWeight": "normal", "titlePadding": 4, "titleLineHeight": 12, "labelAngle": 0, "labelFontSize": 9.3, "labelPadding": 3, "ticks": false, "domain": false}},
      "y": {"field": "i", "type": "nominal", "sort": ["yes","no"], "scale": {"paddingInner": 0, "paddingOuter": 0}, "axis": {"title": "ileus", "titleAngle": 0, "titleAlign": "right", "titleBaseline": "middle", "titleFontSize": 9.3, "titleFontWeight": "normal", "titlePadding": 2, "labelFontSize": 9.3, "labelPadding": 5, "labelOffset": -3, "ticks": false, "domain": false}}
     },
     "layer": [
      {"mark": {"type": "rect"}, "encoding": {"color": {"condition": {"test": "(datum.i == 'yes') == (datum.f == 'high')", "value": "#F3B27B"}, "value": "#3E8EF0"}}},
      {"mark": {"type": "text", "fontSize": 5.6, "dy": -4, "color": "#222"}, "encoding": {"text": {"field": "n"}}},
      {"mark": {"type": "text", "fontSize": 5.6, "dy": 7, "color": "#222"}, "encoding": {"text": {"field": "pct"}}}
     ]},
    {"width": 87, "height": 88,
     "title": {"text": "EIG", "fontSize": 9.7, "fontWeight": "normal", "offset": 2},
     "data": {"name": "heat"}, "transform": [{"filter": "datum.h == 'EIG'"}],
     "encoding": {
      "x": {"field": "f", "type": "nominal", "sort": ["high","low"], "scale": {"paddingInner": 0, "paddingOuter": 0}, "axis": {"title": ["Faecalibacterium", "p=0.01123"], "titleFontSize": 9.3, "titleFontWeight": "normal", "titlePadding": 4, "titleLineHeight": 12, "labelAngle": 0, "labelFontSize": 9.3, "labelPadding": 3, "ticks": false, "domain": false}},
      "y": {"field": "i", "type": "nominal", "sort": ["yes","no"], "scale": {"paddingInner": 0, "paddingOuter": 0}, "axis": null}
     },
     "layer": [
      {"mark": {"type": "rect"}, "encoding": {"color": {"condition": {"test": "(datum.i == 'yes') == (datum.f == 'high')", "value": "#F3B27B"}, "value": "#3E8EF0"}}},
      {"mark": {"type": "text", "fontSize": 5.6, "dy": -4, "color": "#222"}, "encoding": {"text": {"field": "n"}}},
      {"mark": {"type": "text", "fontSize": 5.6, "dy": 7, "color": "#222"}, "encoding": {"text": {"field": "pct"}}}
     ]},
    {"width": 88, "height": 88,
     "title": {"text": "DIG", "fontSize": 9.7, "fontWeight": "normal", "offset": 2},
     "data": {"name": "heat"}, "transform": [{"filter": "datum.h == 'DIG'"}],
     "encoding": {
      "x": {"field": "f", "type": "nominal", "sort": ["high","low"], "scale": {"paddingInner": 0, "paddingOuter": 0}, "axis": {"title": ["Faecalibacterium", "p=0.25960"], "titleFontSize": 9.3, "titleFontWeight": "normal", "titlePadding": 4, "titleLineHeight": 12, "labelAngle": 0, "labelFontSize": 9.3, "labelPadding": 3, "ticks": false, "domain": false}},
      "y": {"field": "i", "type": "nominal", "sort": ["yes","no"], "scale": {"paddingInner": 0, "paddingOuter": 0}, "axis": null}
     },
     "layer": [
      {"mark": {"type": "rect"}, "encoding": {"color": {"condition": {"test": "(datum.i == 'yes') == (datum.f == 'high')", "value": "#F3B27B"}, "value": "#3E8EF0"}}},
      {"mark": {"type": "text", "fontSize": 5.6, "dy": -4, "color": "#222"}, "encoding": {"text": {"field": "n"}}},
      {"mark": {"type": "text", "fontSize": 5.6, "dy": 7, "color": "#222"}, "encoding": {"text": {"field": "pct"}}}
     ]}
   ]},
   {"title": {"text": "E", "anchor": "start", "fontSize": 14, "fontWeight": "bold", "dx": -8, "offset": 1},
    "hconcat": [
    {"width": 87, "height": 88,
     "title": {"text": "Cohort 2", "fontSize": 9.7, "fontWeight": "normal", "offset": 2},
     "data": {"name": "heat"}, "transform": [{"filter": "datum.h == 'C2'"}],
     "encoding": {
      "x": {"field": "f", "type": "nominal", "sort": ["high","low"], "scale": {"paddingInner": 0, "paddingOuter": 0}, "axis": {"title": ["Faecalibacterium", "p=0.11067"], "titleFontSize": 9.3, "titleFontWeight": "normal", "titlePadding": 4, "titleLineHeight": 12, "labelAngle": 0, "labelFontSize": 9.3, "labelPadding": 3, "ticks": false, "domain": false}},
      "y": {"field": "i", "type": "nominal", "sort": ["yes","no"], "scale": {"paddingInner": 0, "paddingOuter": 0}, "axis": null}
     },
     "layer": [
      {"mark": {"type": "rect"}, "encoding": {"color": {"condition": {"test": "(datum.i == 'yes') == (datum.f == 'high')", "value": "#F3B27B"}, "value": "#3E8EF0"}}},
      {"mark": {"type": "text", "fontSize": 5.6, "dy": -4, "color": "#222"}, "encoding": {"text": {"field": "n"}}},
      {"mark": {"type": "text", "fontSize": 5.6, "dy": 7, "color": "#222"}, "encoding": {"text": {"field": "pct"}}}
     ]}
   ]}
  ]}
 ]},
 {"width": 184, "height": 109,
  "title": {"text": "F", "orient": "left", "anchor": "end", "angle": 0, "fontSize": 14, "fontWeight": "bold", "offset": -4},
  "data": {"name": "bars"},
  "layer": [
   {"transform": [{"filter": {"field": "genus", "oneOf": ["Bacteroides","Ralstonia","Klebsiella","Fusobacterium","Burkholderia Paraburkholderia","Faecalibacterium","Prevotella 9"]}}, {"filter": "datum.grp == 'EIG'"}],
    "mark": {"type": "bar", "color": "#EBEBEB"},
    "encoding": {
     "x": {"field": "genus", "type": "nominal", "sort": ["Bacteroides","unclassified norank","Ralstonia","unclassified Oxalobacteraceae","Klebsiella","Acinetobacter","Fusobacterium","Rhodococcus","Burkholderia Paraburkholderia","Peptostreptococcus","Faecalibacterium","Enterobacter","Prevotella 9"], "scale": {"paddingInner": 0.05, "paddingOuter": 0.15}, "axis": {"title": null, "labelAngle": -45, "labelAlign": "right", "labelBaseline": "top", "labelFontSize": 6, "labelPadding": 1, "tickSize": 2, "domainColor": "#222", "tickColor": "#222"}},
     "y": {"datum": 49.6, "type": "quantitative", "scale": {"domain": [0, 49.6], "nice": false}, "axis": {"values": [0,5,10,15,20,25,30,35,40,45], "tickCount": 12, "format": "d", "title": "Mean proportions(%)", "titleFontSize": 8.5, "titleFontWeight": "normal", "titlePadding": 5, "labelFontSize": 7, "labelPadding": 2, "tickSize": 3, "domainColor": "#222", "tickColor": "#222", "grid": false}}
    }},
   {"mark": {"type": "bar"},
    "encoding": {
     "x": {"field": "genus", "type": "nominal", "sort": ["Bacteroides","unclassified norank","Ralstonia","unclassified Oxalobacteraceae","Klebsiella","Acinetobacter","Fusobacterium","Rhodococcus","Burkholderia Paraburkholderia","Peptostreptococcus","Faecalibacterium","Enterobacter","Prevotella 9"], "scale": {"paddingInner": 0.05, "paddingOuter": 0.15}, "axis": {"title": null, "labelAngle": -45, "labelAlign": "right", "labelBaseline": "top", "labelFontSize": 6, "labelPadding": 1, "tickSize": 2, "domainColor": "#222", "tickColor": "#222"}},
     "xOffset": {"field": "grp", "type": "nominal", "sort": ["EIG","New grow","DIG"], "scale": {"paddingOuter": 0.1}},
     "y": {"field": "v", "type": "quantitative", "scale": {"domain": [0, 49.6], "nice": false}, "axis": {"values": [0,5,10,15,20,25,30,35,40,45], "tickCount": 12, "format": "d", "title": "Mean proportions(%)", "titleFontSize": 8.5, "titleFontWeight": "normal", "titlePadding": 5, "labelFontSize": 7, "labelPadding": 2, "tickSize": 3, "domainColor": "#222", "tickColor": "#222", "grid": false}},
     "color": {"field": "grp", "type": "nominal", "scale": {"domain": ["EIG","New grow","DIG"], "range": ["#EE1D23","#1C1CE8","#178A23"]}, "legend": {"orient": "top-right", "title": null, "labelFontSize": 8.2, "symbolType": "square", "symbolSize": 45, "rowPadding": 3, "offset": 2, "padding": 0}}
    }}
  ]}
]}
]
}
